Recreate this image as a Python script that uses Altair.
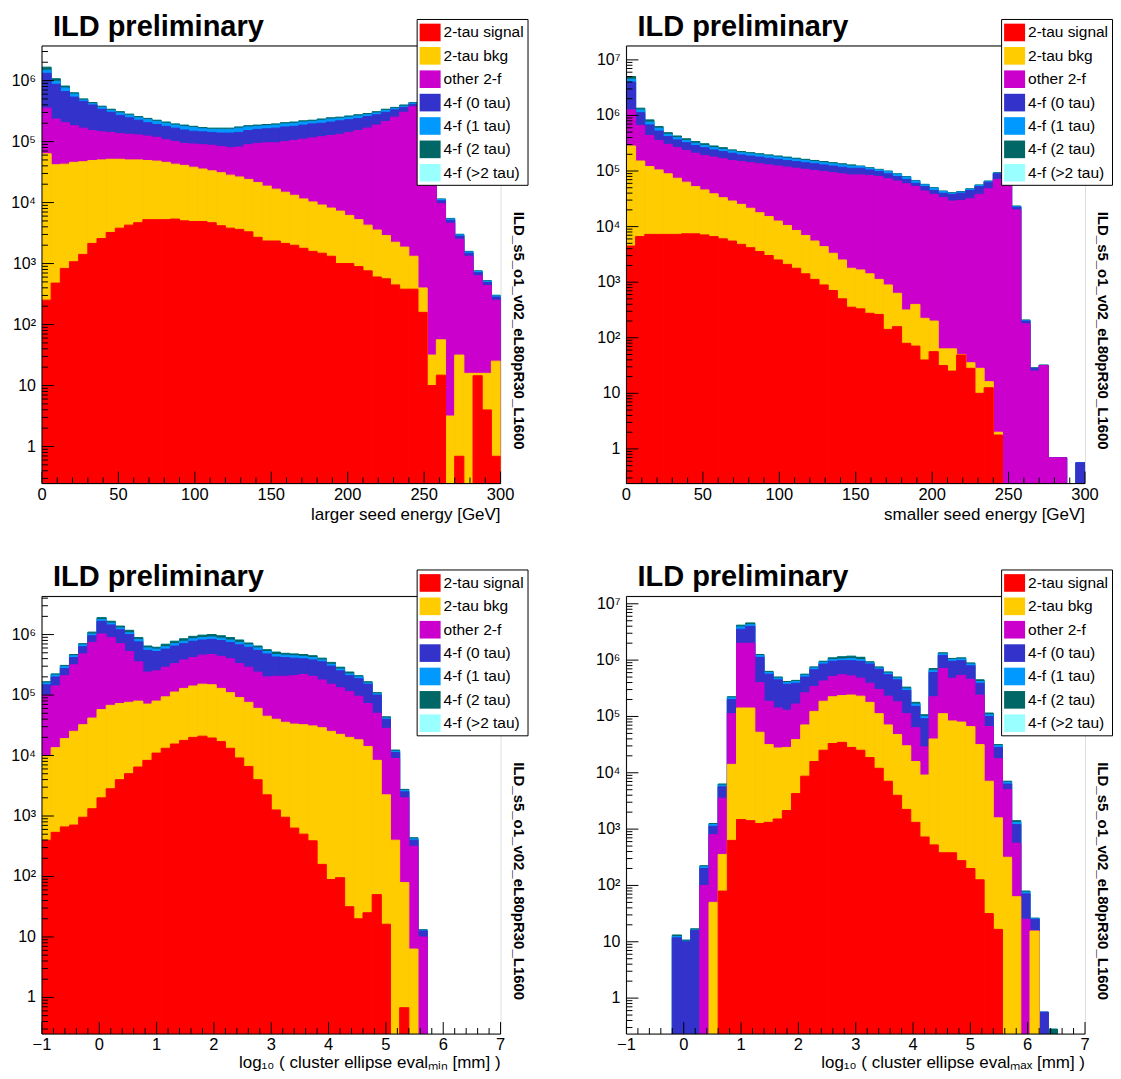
import altair as alt
import pandas as pd

N = None
FONT = "Liberation Sans"

SERIES = ["2-tau signal", "2-tau bkg", "other 2-f", "4-f (0 tau)",
          "4-f (1 tau)", "4-f (2 tau)", "4-f (>2 tau)"]
COLORS = ["#FF0000", "#FFCC00", "#CC00CC", "#3333CC", "#0099FF", "#006666", "#99FFFF"]

# Values are log10(events) of the cumulative (stacked) top of each layer.
# 50 bins per panel.

# ---- Panel 1: larger seed energy [GeV], 0..300
P1_SIG = [2.40, 2.68, 2.92, 3.03, 3.15, 3.33, 3.41, 3.51, 3.58, 3.63,
          3.67, 3.72, 3.72, 3.72, 3.73, 3.70, 3.69, 3.69, 3.67, 3.62,
          3.58, 3.56, 3.52, 3.43, 3.37, 3.37, 3.33, 3.30, 3.25, 3.20,
          3.17, 3.12, 3.00, 3.00, 2.95, 2.88, 2.78, 2.75, 2.65, 2.58,
          2.58, 2.20, 1.00, 1.17, N, -0.16, N, 1.16, 0.60, -0.16]
P1_BKG = [4.80, 4.62, 4.63, 4.66, 4.67, 4.69, 4.70, 4.71, 4.71, 4.70,
          4.70, 4.69, 4.68, 4.66, 4.63, 4.61, 4.58, 4.55, 4.52, 4.49,
          4.45, 4.42, 4.38, 4.33, 4.27, 4.22, 4.17, 4.12, 4.06, 4.01,
          3.96, 3.91, 3.86, 3.79, 3.72, 3.63, 3.55, 3.46, 3.35, 3.27,
          3.12, 2.60, 1.50, 1.75, 0.50, 1.50, 1.20, 1.20, 1.20, 1.40]
P1_OTH = [5.55, 5.37, 5.31, 5.26, 5.22, 5.18, 5.16, 5.15, 5.13, 5.12,
          5.11, 5.09, 5.07, 5.03, 5.00, 4.97, 4.96, 4.95, 4.94, 4.92,
          4.90, 4.91, 4.95, 4.97, 4.98, 4.98, 5.00, 5.02, 5.04, 5.06,
          5.08, 5.10, 5.12, 5.15, 5.18, 5.22, 5.27, 5.33, 5.40, 5.48,
          5.57, 5.20, 4.38, 3.98, 3.66, 3.40, 3.12, 2.80, 2.64, 2.40]
P1_F0 = [6.12, 5.94, 5.82, 5.73, 5.66, 5.60, 5.53, 5.48, 5.43, 5.39,
         5.35, 5.31, 5.28, 5.25, 5.22, 5.19, 5.17, 5.16, 5.15, 5.14,
         5.14, 5.15, 5.18, 5.20, 5.21, 5.22, 5.24, 5.25, 5.27, 5.29,
         5.30, 5.32, 5.34, 5.36, 5.38, 5.41, 5.44, 5.48, 5.52, 5.56,
         5.61, 5.25, 4.45, 4.03, 3.71, 3.45, 3.17, 2.85, 2.69, 2.45]
P1_F1 = [6.17, 5.99, 5.88, 5.78, 5.68, 5.62, 5.56, 5.51, 5.47, 5.43,
         5.39, 5.36, 5.33, 5.30, 5.27, 5.25, 5.23, 5.21, 5.20, 5.20,
         5.20, 5.22, 5.24, 5.25, 5.26, 5.27, 5.29, 5.30, 5.32, 5.33,
         5.35, 5.37, 5.38, 5.40, 5.42, 5.44, 5.47, 5.51, 5.54, 5.58,
         5.63, 5.27, 4.47, 4.05, 3.73, 3.47, 3.19, 2.87, 2.71, 2.47]
P1_TOT = [6.22, 6.03, 5.91, 5.80, 5.70, 5.64, 5.58, 5.53, 5.49, 5.45,
          5.41, 5.38, 5.35, 5.32, 5.29, 5.27, 5.25, 5.23, 5.22, 5.22,
          5.22, 5.24, 5.26, 5.27, 5.28, 5.29, 5.31, 5.32, 5.34, 5.35,
          5.37, 5.39, 5.40, 5.42, 5.44, 5.46, 5.49, 5.53, 5.56, 5.60,
          5.64, 5.28, 4.48, 4.06, 3.74, 3.48, 3.20, 2.88, 2.72, 2.48]

# ---- Panel 2: smaller seed energy [GeV], 0..300
P2_SIG = [3.65, 3.82, 3.86, 3.86, 3.86, 3.86, 3.87, 3.87, 3.85, 3.82,
          3.78, 3.74, 3.68, 3.62, 3.55, 3.48, 3.40, 3.32, 3.25, 3.15,
          3.05, 2.95, 2.85, 2.70, 2.55, 2.52, 2.44, 2.42, 2.15, 2.20,
          1.90, 1.85, 1.60, 1.75, 1.50, 1.40, 1.69, 1.45, 1.00, 1.10,
          0.25, N, N, N, N, N, N, N, N, N]
P2_BKG = [5.45, 5.18, 5.08, 5.02, 4.95, 4.87, 4.80, 4.72, 4.66, 4.59,
          4.52, 4.46, 4.40, 4.33, 4.25, 4.18, 4.10, 4.02, 3.93, 3.84,
          3.74, 3.64, 3.52, 3.40, 3.25, 3.22, 3.15, 3.05, 2.95, 2.80,
          2.50, 2.60, 2.35, 2.30, 1.80, 1.80, 1.70, 1.55, 1.45, 1.21,
          0.30, N, N, N, N, N, N, N, N, N]
P2_OTH = [6.10, 5.82, 5.64, 5.55, 5.48, 5.42, 5.37, 5.32, 5.28, 5.25,
          5.22, 5.19, 5.17, 5.15, 5.13, 5.11, 5.09, 5.07, 5.05, 5.03,
          5.01, 4.99, 4.97, 4.95, 4.93, 4.93, 4.92, 4.90, 4.86, 4.82,
          4.77, 4.72, 4.64, 4.58, 4.52, 4.46, 4.47, 4.50, 4.58, 4.68,
          4.85, 5.05, 4.30, 2.25, 1.40, 1.50, -0.16, -0.16, N, N]
P2_F0 = [6.60, 6.05, 5.83, 5.72, 5.62, 5.56, 5.51, 5.46, 5.42, 5.38,
         5.35, 5.32, 5.29, 5.27, 5.25, 5.23, 5.21, 5.19, 5.17, 5.15,
         5.13, 5.11, 5.09, 5.07, 5.05, 5.05, 5.02, 4.99, 4.95, 4.90,
         4.85, 4.78, 4.72, 4.65, 4.60, 4.58, 4.60, 4.65, 4.72, 4.80,
         4.95, 5.10, 4.35, 2.30, 1.45, 1.50, -0.16, -0.16, N, -0.25]
P2_F1 = [6.65, 6.10, 5.88, 5.77, 5.66, 5.60, 5.55, 5.50, 5.46, 5.42,
         5.39, 5.36, 5.33, 5.31, 5.29, 5.27, 5.25, 5.23, 5.21, 5.19,
         5.17, 5.15, 5.13, 5.11, 5.09, 5.08, 5.05, 5.02, 4.99, 4.94,
         4.89, 4.82, 4.75, 4.69, 4.63, 4.60, 4.62, 4.67, 4.74, 4.81,
         4.96, 5.12, 4.36, 2.31, 1.45, 1.50, -0.16, -0.16, N, -0.25]
P2_TOT = [6.70, 6.13, 5.92, 5.80, 5.69, 5.63, 5.58, 5.53, 5.49, 5.45,
          5.42, 5.38, 5.35, 5.33, 5.31, 5.29, 5.27, 5.25, 5.23, 5.21,
          5.19, 5.17, 5.15, 5.13, 5.11, 5.09, 5.06, 5.03, 5.00, 4.95,
          4.90, 4.83, 4.76, 4.70, 4.64, 4.61, 4.63, 4.68, 4.75, 4.82,
          4.97, 5.13, 4.37, 2.32, 1.46, 1.51, -0.16, -0.16, N, -0.25]

# ---- Panel 3: log10(cluster ellipse eval_min [mm]), -1..7
P3_SIG = [2.60, 2.73, 2.82, 2.85, 2.98, 3.12, 3.30, 3.45, 3.60, 3.70,
          3.81, 3.92, 4.04, 4.12, 4.19, 4.25, 4.30, 4.32, 4.29, 4.23,
          4.12, 3.96, 3.82, 3.60, 3.35, 3.10, 2.98, 2.80, 2.70, 2.59,
          2.20, 1.95, 1.98, 1.50, 1.30, 1.40, 1.70, 1.21, N, -0.17,
          N, N, N, N, N, N, N, N, N, N]
P3_BKG = [4.00, 4.13, 4.28, 4.40, 4.51, 4.62, 4.76, 4.83, 4.86, 4.88,
          4.90, 4.85, 4.90, 4.97, 5.05, 5.11, 5.15, 5.18, 5.17, 5.11,
          5.04, 4.96, 4.88, 4.78, 4.65, 4.60, 4.55, 4.52, 4.51, 4.49,
          4.46, 4.40, 4.35, 4.30, 4.26, 4.15, 3.92, 3.35, 2.60, 1.90,
          0.80, N, N, N, N, N, N, N, N, N]
P3_OTH = [5.00, 5.15, 5.32, 5.50, 5.68, 5.87, 6.01, 5.95, 5.85, 5.72,
          5.55, 5.38, 5.40, 5.46, 5.52, 5.58, 5.62, 5.66, 5.67, 5.64,
          5.60, 5.52, 5.46, 5.38, 5.30, 5.31, 5.31, 5.32, 5.34, 5.31,
          5.25, 5.18, 5.12, 5.06, 4.98, 4.86, 4.70, 4.45, 3.95, 3.30,
          2.50, 1.00, N, N, N, N, N, N, N, N]
P3_F0 = [5.17, 5.30, 5.44, 5.62, 5.80, 5.98, 6.22, 6.16, 6.08, 6.00,
         5.88, 5.74, 5.72, 5.76, 5.81, 5.85, 5.89, 5.91, 5.92, 5.90,
         5.87, 5.83, 5.79, 5.74, 5.68, 5.63, 5.62, 5.61, 5.60, 5.58,
         5.55, 5.48, 5.40, 5.32, 5.27, 5.18, 5.00, 4.60, 4.05, 3.40,
         2.60, 1.10, N, N, N, N, N, N, N, N]
P3_F1 = [5.20, 5.33, 5.47, 5.65, 5.83, 6.01, 6.25, 6.19, 6.11, 6.03,
         5.92, 5.78, 5.76, 5.80, 5.85, 5.89, 5.93, 5.95, 5.96, 5.94,
         5.91, 5.87, 5.83, 5.78, 5.72, 5.67, 5.66, 5.65, 5.64, 5.62,
         5.58, 5.51, 5.43, 5.35, 5.30, 5.20, 5.02, 4.62, 4.07, 3.42,
         2.62, 1.11, N, N, N, N, N, N, N, N]
P3_TOT = [5.22, 5.35, 5.49, 5.67, 5.85, 6.04, 6.28, 6.22, 6.14, 6.07,
          5.95, 5.81, 5.79, 5.84, 5.89, 5.93, 5.97, 5.99, 6.00, 5.98,
          5.95, 5.91, 5.86, 5.81, 5.75, 5.71, 5.69, 5.68, 5.67, 5.65,
          5.61, 5.54, 5.46, 5.38, 5.32, 5.22, 5.04, 4.64, 4.09, 3.44,
          2.64, 1.12, N, N, N, N, N, N, N, N]

# ---- Panel 4: log10(cluster ellipse eval_max [mm]), -1..7
P4_SIG = [N, N, N, N, N, N, N, N, N, N,
          1.90, 2.80, 3.17, 3.15, 3.10, 3.12, 3.18, 3.33, 3.63, 3.94,
          4.20, 4.40, 4.52, 4.54, 4.45, 4.40, 4.27, 4.08, 3.85, 3.60,
          3.35, 3.12, 2.86, 2.72, 2.58, 2.58, 2.44, 2.30, 2.10, 1.50,
          1.22, N, N, N, N, N, N, N, N, N]
P4_BKG = [N, N, N, N, N, N, N, N, N, 1.70,
          2.55, 4.15, 5.15, 5.15, 4.72, 4.50, 4.44, 4.45, 4.59, 4.85,
          5.09, 5.27, 5.35, 5.37, 5.38, 5.36, 5.25, 5.05, 4.85, 4.68,
          4.48, 4.20, 3.96, 4.60, 5.05, 4.92, 4.90, 4.82, 4.50, 3.85,
          3.20, 2.50, 1.80, N, 1.19, N, N, N, N, N]
P4_OTH = [N, N, N, N, N, N, N, N, 2.00, 2.90,
          3.55, 5.05, 6.30, 6.30, 5.60, 5.27, 5.15, 5.11, 5.22, 5.42,
          5.53, 5.63, 5.71, 5.74, 5.72, 5.68, 5.59, 5.48, 5.36, 5.26,
          5.05, 4.80, 4.46, 5.35, 5.85, 5.68, 5.73, 5.66, 5.38, 4.82,
          4.25, 3.70, 2.75, 1.40, 1.20, N, N, N, N, N]
P4_F0 = [N, N, N, N, N, 1.07, 1.00, 1.20, 2.30, 3.05,
         3.75, 5.30, 6.55, 6.60, 6.05, 5.75, 5.65, 5.57, 5.59, 5.70,
         5.83, 5.93, 5.98, 5.99, 5.99, 5.98, 5.93, 5.84, 5.74, 5.65,
         5.46, 5.18, 4.96, 5.78, 6.08, 5.98, 5.99, 5.90, 5.59, 5.00,
         4.45, 3.80, 3.08, 1.85, 1.40, -0.25, N, N, N, N]
P4_F1 = [N, N, N, N, N, 1.09, 1.01, 1.21, 2.33, 3.08,
         3.78, 5.33, 6.59, 6.63, 6.08, 5.78, 5.68, 5.60, 5.62, 5.73,
         5.86, 5.96, 6.01, 6.02, 6.03, 6.01, 5.95, 5.86, 5.77, 5.68,
         5.49, 5.22, 5.00, 5.82, 6.11, 6.01, 6.02, 5.93, 5.62, 5.03,
         4.48, 3.83, 3.12, 1.88, 1.41, -0.25, N, N, N, N]
P4_TOT = [N, N, N, N, N, 1.12, 1.03, 1.23, 2.35, 3.10,
          3.80, 5.35, 6.62, 6.66, 6.10, 5.80, 5.70, 5.62, 5.64, 5.75,
          5.88, 5.98, 6.04, 6.06, 6.07, 6.05, 5.97, 5.88, 5.79, 5.70,
          5.52, 5.25, 5.03, 5.85, 6.13, 6.03, 6.04, 5.95, 5.65, 5.06,
          4.50, 3.85, 3.15, 1.90, 1.42, -0.25, -0.55, N, N, N]

X_TITLES = ["larger seed energy [GeV]", "smaller seed energy [GeV]",
            "log\u2081\u2080 ( cluster ellipse eval\u2098\u1d62\u2099 [mm] )",
            "log\u2081\u2080 ( cluster ellipse eval\u2098\u2090\u2093 [mm] )"]
X_TITLE_DY = [36, 36, 33.5, 33.5]
X_RANGES = [(0, 300), (0, 300), (-1, 7), (-1, 7)]
X_MAJOR = [[0, 50, 100, 150, 200, 250, 300]] * 2 + [[-1, 0, 1, 2, 3, 4, 5, 6, 7]] * 2
X_MINOR_STEP = [10, 10, 0.2, 0.2]
Y_RANGES = [(0.247, 3.7e6), (0.238, 1.78e7), (0.248, 4.27e6), (0.23, 1.35e7)]
TAG = "ILD_s5_o1_v02_eL80pR30_L1600"

W, H = 459, 438
SUP = "\u2070\u00b9\u00b2\u00b3\u2074\u2075\u2076\u2077\u2078\u2079"


def ylab(e):
    if e == 0:
        return "1"
    if e == 1:
        return "10"
    return "10" + SUP[e]


def xlab(v):
    return ("\u2212" + str(-v)) if v < 0 else str(v)


def panel(i, arrs):
    sig, bkg, oth, f0, f1, tot = arrs
    xmin, xmax = X_RANGES[i]
    ymin, ymax = Y_RANGES[i]
    nb = len(sig)
    bw = (xmax - xmin) / nb
    layers = [(6, tot), (5, tot), (4, f1), (3, f0), (2, oth), (1, bkg), (0, sig)]
    rows = []
    for z, (si, arr) in enumerate(layers):
        for k, v in enumerate(arr):
            if v is None:
                continue
            rows.append(dict(x0=xmin + k * bw, x1=xmin + (k + 1) * bw,
                             top=10 ** v, base=ymin, series=SERIES[si], z=z))
    df = pd.DataFrame(rows)

    xs = alt.Scale(domain=[xmin, xmax], nice=False, zero=False)
    ys = alt.Scale(type="log", domain=[ymin, ymax], nice=False)

    yexp = [e for e in range(0, 8) if ymin <= 10 ** e <= ymax]
    ymaj = [10 ** e for e in yexp]
    ymin_t = [m * 10 ** e for e in range(-1, 8) for m in range(2, 10) if ymin < m * 10 ** e < ymax]
    step = X_MINOR_STEP[i]
    nminor = int(round((xmax - xmin) / step))
    xmaj = X_MAJOR[i]
    xmin_t = [round(xmin + j * step, 4) for j in range(1, nminor)]
    xmin_t = [v for v in xmin_t if all(abs(v - m) > 1e-6 for m in xmaj)]

    bars = alt.Chart(df).mark_rect(strokeWidth=1.0, clip=True).encode(
        x=alt.X("x0:Q", scale=xs, axis=None),
        x2="x1:Q",
        y=alt.Y("top:Q", scale=ys, axis=None),
        y2="base:Q",
        color=alt.Color("series:N", scale=alt.Scale(domain=SERIES, range=COLORS),
                        legend=alt.Legend(
                            title=None, orient="none", legendX=375, legendY=-27,
                            direction="vertical", fillColor="white", strokeColor="black",
                            padding=3, symbolType="M-1,-0.84H1V0.84H-1Z", symbolSize=441,
                            symbolStrokeWidth=0, symbolOpacity=1, labelFont=FONT,
                            labelFontSize=15.5, labelColor="black", rowPadding=3.4,
                            labelOffset=3, labelLimit=200)),
        stroke=alt.Stroke("series:N", scale=alt.Scale(domain=SERIES, range=COLORS), legend=None),
        order=alt.Order("z:Q"),
    )

    # frame: left, bottom and top lines drawn at the domain limits
    frame_v = alt.Chart(pd.DataFrame({"x": [xmin], "y": [ymin], "y2": [ymax]})).mark_rule(
        color="black", strokeWidth=1).encode(
        x=alt.X("x:Q", scale=xs, axis=None), y=alt.Y("y:Q", scale=ys, axis=None), y2="y2:Q")
    frame_h = alt.Chart(pd.DataFrame({"x": [xmin, xmin], "x2": [xmax, xmax], "y": [ymin, ymax]})).mark_rule(
        color="black", strokeWidth=1).encode(
        x=alt.X("x:Q", scale=xs, axis=None), x2="x2:Q", y=alt.Y("y:Q", scale=ys, axis=None))

    ymajor_rules = alt.Chart(pd.DataFrame({"v": ymaj})).mark_rule(color="black", strokeWidth=1).encode(
        y=alt.Y("v:Q", scale=ys, axis=None), x=alt.value(0), x2=alt.value(12))
    yminor_rules = alt.Chart(pd.DataFrame({"v": ymin_t})).mark_rule(color="black", strokeWidth=1).encode(
        y=alt.Y("v:Q", scale=ys, axis=None), x=alt.value(0), x2=alt.value(6))
    xmajor_rules = alt.Chart(pd.DataFrame({"v": xmaj})).mark_rule(color="black", strokeWidth=1).encode(
        x=alt.X("v:Q", scale=xs, axis=None), y=alt.value(H), y2=alt.value(H - 12))
    xminor_rules = alt.Chart(pd.DataFrame({"v": xmin_t})).mark_rule(color="black", strokeWidth=1).encode(
        x=alt.X("v:Q", scale=xs, axis=None), y=alt.value(H), y2=alt.value(H - 6))

    ylabels = alt.Chart(pd.DataFrame({"v": ymaj, "lab": [ylab(e) for e in yexp]})).mark_text(
        font=FONT, fontSize=16, align="right", baseline="middle", color="black").encode(
        y=alt.Y("v:Q", scale=ys, axis=None), x=alt.value(-6), text="lab:N")
    xlabels = alt.Chart(pd.DataFrame({"v": xmaj, "lab": [xlab(v) for v in xmaj]})).mark_text(
        font=FONT, fontSize=16.5, align="center", baseline="top", color="black").encode(
        x=alt.X("v:Q", scale=xs, axis=None), y=alt.value(H + 3), text="lab:N")
    xtitle = alt.Chart(pd.DataFrame({"t": [X_TITLES[i]]})).mark_text(
        font=FONT, fontSize=17, align="right", baseline="alphabetic", color="black").encode(
        text="t:N", x=alt.value(W), y=alt.value(H + X_TITLE_DY[i]))

    title = alt.Chart(pd.DataFrame({"t": ["ILD preliminary"]})).mark_text(
        font=FONT, fontSize=29, fontWeight="bold", align="left", baseline="alphabetic",
        color="black").encode(text="t:N", x=alt.value(11), y=alt.value(-10))
    tag = alt.Chart(pd.DataFrame({"t": [TAG]})).mark_text(
        font=FONT, fontSize=15, fontWeight="bold", align="center", baseline="middle",
        angle=90, color="black").encode(text="t:N", x=alt.value(W + 18), y=alt.value(285))

    return alt.layer(bars, frame_v, frame_h, ymajor_rules, yminor_rules, xmajor_rules, xminor_rules,
                     ylabels, xlabels, xtitle, title, tag).properties(width=W, height=H)


P = [
    (P1_SIG, P1_BKG, P1_OTH, P1_F0, P1_F1, P1_TOT),
    (P2_SIG, P2_BKG, P2_OTH, P2_F0, P2_F1, P2_TOT),
    (P3_SIG, P3_BKG, P3_OTH, P3_F0, P3_F1, P3_TOT),
    (P4_SIG, P4_BKG, P4_OTH, P4_F0, P4_F1, P4_TOT),
]
panels = [panel(i, a) for i, a in enumerate(P)]

chart = alt.concat(*panels, columns=2, spacing={"row": 113, "column": 126}, bounds="flush").resolve_scale(
    color="independent", stroke="independent").resolve_legend(
    color="independent", stroke="independent").properties(
    padding={"left": 2, "top": 3.5, "right": 0, "bottom": 0}).configure_view(
    stroke="#888888", strokeWidth=1).configure(background="white")

chart.save("out.html", embed_options={"renderer": "svg", "actions": False})
